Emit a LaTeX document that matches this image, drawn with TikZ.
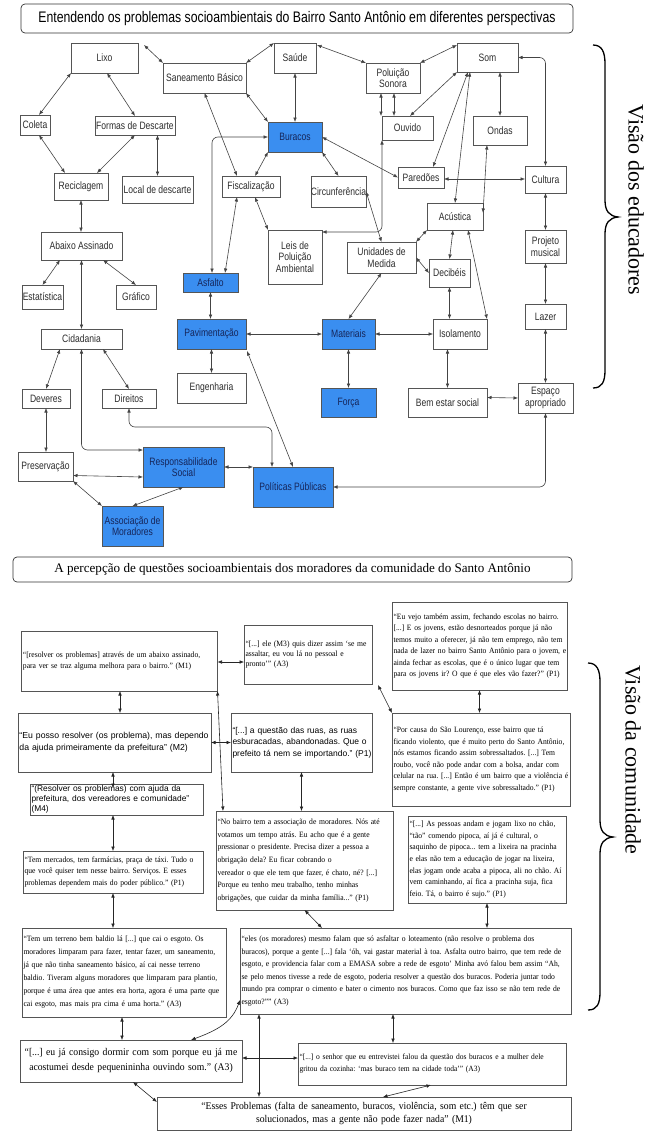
\documentclass[tikz,border=0pt]{standalone}
\usepackage{fontspec}
\setmainfont{Liberation Serif}
\newfontfamily\narrow[FakeStretch=0.8]{Liberation Sans}
\newfontfamily\arialf{Liberation Sans}
\newfontfamily\qserif[FakeStretch=0.94]{Liberation Serif}
\usetikzlibrary{arrows.meta,calc}
\definecolor{myblue}{HTML}{3A8EF0}
\definecolor{navytext}{HTML}{16265A}
\definecolor{boxgray}{HTML}{555555}
\definecolor{txtgray}{HTML}{2E2E2E}
\definecolor{linegray}{HTML}{444444}
\newcommand\JL[1]{\hbox to\hsize{#1}}
\newcommand\LL[1]{\hbox to\hsize{#1\hfil}}
\newcommand\CL[1]{\hbox to\hsize{\hfil#1\hfil}}
\frenchspacing
\tikzset{
  box/.style={draw=boxgray, fill=white, line width=0.6pt, text=txtgray,
    font=\narrow\fontsize{10.7}{11.5}\selectfont, inner sep=1pt, outer sep=0pt, align=center},
  bbox/.style={box, fill=myblue, text=navytext},
  arr/.style={draw=linegray, line width=0.6pt, {Latex[length=4.5pt,width=3.6pt]}-{Latex[length=4.5pt,width=3.6pt]}},
  qbox/.style={draw=boxgray, fill=white, line width=0.9pt, inner xsep=1.5pt, inner ysep=1pt, outer sep=0pt,
    font=\qserif\fontsize{8.1}{11.5}\selectfont},
  qarr/.style={draw=black!85, line width=0.6pt, {Latex[length=4.5pt,width=3.6pt]}-{Latex[length=4.5pt,width=3.6pt]}},
  titlebox/.style={draw=black!80, line width=0.7pt, rounded corners=4pt, fill=white, outer sep=0pt},
  bracepath/.style={draw=black, line width=1.3pt}
}
\begin{document}
\begin{tikzpicture}[x=1pt,y=-1pt]
\useasboundingbox (0,0) rectangle (660,1132);
\fill[white] (0,0) rectangle (660,1132);

% ===== Title 1 =====
\node[titlebox, minimum width=552pt, minimum height=29pt, font=\narrow\fontsize{15.3}{17}\selectfont] (t1) at (297,18.5)
  {Entendendo os problemas socioambientais do Bairro Santo Antônio em diferentes perspectivas};

% ===== Top nodes =====
\node[box, minimum width=67pt, minimum height=30pt] (lixo) at (104.5,58) {Lixo};
\node[box, minimum width=83pt, minimum height=30pt] (san) at (204.5,78) {Saneamento Básico};
\node[box, minimum width=42pt, minimum height=30pt] (saude) at (295,58) {Saúde};
\node[box, minimum width=30pt, minimum height=20pt] (coleta) at (35,125) {Coleta};
\node[box, minimum width=80pt, minimum height=19pt] (formas) at (135,125.5) {Formas de Descarte};
\node[bbox, minimum width=54pt, minimum height=30pt] (buracos) at (295,137) {Buracos};
\node[box, minimum width=54pt, minimum height=27pt] (recic) at (81,186.5) {Reciclagem};
\node[box, minimum width=71pt, minimum height=27pt] (local) at (157.5,189.5) {Local de descarte};
\node[box, minimum width=58pt, minimum height=21pt] (fisc) at (251,186.5) {Fiscalização};
\node[box, minimum width=55pt, minimum height=31pt, inner sep=0pt] (circ) at (338.5,191.5) {Circunferência};
\node[box, minimum width=81pt, minimum height=28pt] (abaixo) at (81.5,246) {Abaixo Assinado};
\node[box, minimum width=54pt, minimum height=54pt] (leis) at (295,257) {Leis de\\Poluição\\Ambiental};
\node[box, minimum width=54pt, minimum height=30pt] (ps) at (393,78) {Poluição\\Sonora};
\node[box, minimum width=61pt, minimum height=29pt] (som) at (487.5,57.5) {Som};
\node[box, minimum width=51pt, minimum height=24pt] (ouvido) at (407.5,128) {Ouvido};
\node[box, minimum width=54pt, minimum height=29pt] (ondas) at (500,130.5) {Ondas};
\node[box, minimum width=46pt, minimum height=21pt] (paredoes) at (421,177.5) {Paredões};
\node[box, minimum width=41pt, minimum height=27pt] (cultura) at (545.5,179.5) {Cultura};
\node[box, minimum width=56pt, minimum height=27pt] (acustica) at (455,216.5) {Acústica};
\node[box, minimum width=69pt, minimum height=31pt] (unidades) at (381.5,257.5) {Unidades de\\Medida};
\node[box, minimum width=41pt, minimum height=28pt] (decibeis) at (449.5,273) {Decibéis};
\node[box, minimum width=41pt, minimum height=33pt] (projeto) at (545.5,246.5) {Projeto\\musical};
\node[bbox, minimum width=55pt, minimum height=19pt] (asfalto) at (210.5,282.5) {Asfalto};
\node[box, minimum width=41pt, minimum height=24pt, inner sep=0pt] (estat) at (42.5,297) {Estatística};
\node[box, minimum width=40pt, minimum height=24pt] (grafico) at (136,297) {Gráfico};
\node[bbox, minimum width=69pt, minimum height=30pt] (pavim) at (211.5,334) {Pavimentação};
\node[box, minimum width=81pt, minimum height=20pt] (cidad) at (81.5,339) {Cidadania};
\node[bbox, minimum width=53pt, minimum height=30pt] (materiais) at (348.5,334) {Materiais};
\node[box, minimum width=54pt, minimum height=30pt] (isol) at (460,334) {Isolamento};
\node[box, minimum width=41pt, minimum height=25pt] (lazer) at (545.5,316.5) {Lazer};
\node[box, minimum width=69pt, minimum height=30pt] (engen) at (211.5,388) {Engenharia};
\node[box, minimum width=48pt, minimum height=19pt] (deveres) at (46,398.5) {Deveres};
\node[box, minimum width=54pt, minimum height=19pt] (direitos) at (129,398.5) {Direitos};
\node[bbox, minimum width=55pt, minimum height=29pt] (forca) at (348.5,402.5) {Força};
\node[box, minimum width=79pt, minimum height=29pt] (bem) at (447.5,402.5) {Bem estar social};
\node[box, minimum width=55pt, minimum height=30pt] (espaco) at (545.5,398) {Espaço\\apropriado};
\node[box, minimum width=55pt, minimum height=29pt] (preserv) at (45.5,466.5) {Preservação};
\node[bbox, minimum width=81pt, minimum height=40pt] (resp) at (183.5,467) {Responsabilidade\\Social};
\node[bbox, minimum width=80pt, minimum height=40pt] (polit) at (293,487) {Políticas Públicas};
\node[bbox, minimum width=61pt, minimum height=40pt] (assoc) at (132.5,526) {Associação de\\Moradores};

% ===== Top connectors =====
\draw[arr] ($(lixo.north east)+(6,2)$) -- (san.north west);
\draw[arr] (lixo.south west) -- ($(coleta.north)+(4,0)$);
\draw[arr] ($(lixo.south)+(2.5,0)$) -- (formas.north);
\draw[arr] ($(coleta.south)+(4,0)$) -- ($(recic.north west)+(11,0)$);
\draw[arr] (formas.south) -- ($(recic.north east)+(-11,0)$);
\draw[arr] (local.north |- formas.south) -- (local.north);
\draw[arr] (recic.south) -- (recic.south |- abaixo.north);
\draw[arr] (san.north east) -- (saude.north west);
\draw[arr] (san.south east) -- (buracos.north west);
\draw[arr] (san.south) -- ($(fisc.north)+(-14,0)$);
\draw[arr] (saude.south) -- (buracos.north);
\draw[arr] (buracos.south west) -- ($(fisc.north)+(4,0)$);
\draw[arr, rounded corners=6pt] (buracos.west) -| ($(asfalto.north)+(1.5,0)$);
\draw[arr] ($(fisc.south)+(-14,0)$) -- ($(asfalto.north)+(14.5,0)$);
\draw[arr] ($(fisc.south)+(4,0)$) -- (leis.north west);
\draw[arr, rounded corners=6pt] (ouvido.south west) |- ($(leis.north east)+(0,2)$);
\draw[arr] ($(ps.south)+(-12,0)$) -- ($(ouvido.north west)+(-1,0)$);
\draw[arr] ($(ps.south)+(1,0)$) -- ($(ouvido.north)+(-13.5,0)$);
\draw[arr] ($(ouvido.north)+(2.5,0)$) -- (som.south west);
\draw[arr] ($(saude.north east)+(1,2)$) -- (ps.north west);
\draw[arr] (ps.north east) -- ($(som.north west)+(0,2)$);
\draw[arr] ($(som.south)+(-19.5,0)$) -- ($(paredoes.north)+(12,0)$);
\draw[arr] ($(som.south)+(-17.5,0)$) -- (acustica.north);
\draw[arr] (ondas.north |- som.south) -- (ondas.north);
\draw[arr, rounded corners=6pt] (som.east) -| (cultura.north);
\draw[arr] ($(ondas.south)+(-13,0)$) -- ($(acustica.north east)+(0,10)$);
\draw[arr] (buracos.east) -- (paredoes.west);
\draw[arr] (buracos.south east) -- (circ.north);
\draw[arr] (circ.east) -- (unidades.north);
\draw[arr] ($(paredoes.east)+(0,1.5)$) -- ($(cultura.west)+(0,-0.5)$);
\draw[arr] (acustica.south west) -- (unidades.north east);
\draw[arr] ($(acustica.south)+(-2,0)$) -- (decibeis.north);
\draw[arr] (unidades.east) -- (decibeis.west);
\draw[arr] ($(acustica.south)+(13,0)$) -- (isol.north east);
\draw[arr] (decibeis.south) -- (decibeis.south |- isol.north);
\draw[arr] (unidades.south) -- (materiais.north);
\draw[arr] (pavim.east) -- (materiais.west);
\draw[arr] (materiais.east) -- (isol.west);
\draw[arr] (materiais.south) -- (forca.north);
\draw[arr] (bem.north |- isol.south) -- (bem.north);
\draw[arr] ($(bem.east)+(0,-5)$) -- (espaco.west);
\draw[arr] (cultura.south) -- (projeto.north);
\draw[arr] (projeto.south) -- (lazer.north);
\draw[arr] (lazer.south) -- (espaco.north);
\draw[arr, rounded corners=6pt] (espaco.south) |- (polit.east);
\draw[arr] (asfalto.south) -- (asfalto.south |- pavim.north);
\draw[arr] (pavim.south) -- (engen.north);
\draw[arr] ($(pavim.south east)+(1,2)$) -- (polit.north);
\draw[arr] ($(abaixo.south west)+(19,0)$) -- (estat.north);
\draw[arr] ($(abaixo.south)+(21.5,0)$) -- (grafico.north);
\draw[arr] (abaixo.south) -- (cidad.north);
\draw[arr] ($(cidad.south west)+(19,0)$) -- (deveres.north);
\draw[arr] ($(cidad.south)+(21.5,0)$) -- (direitos.north);
\draw[arr, rounded corners=6pt] (cidad.south) |- ($(resp.north west)+(0,3)$);
\draw[arr, rounded corners=6pt] (direitos.south) -- ++(0,19) -| ($(polit.north)+(-21,0)$);
\draw[arr] (deveres.south) -- (deveres.south |- preserv.north);
\draw[arr] ($(preserv.east)+(0,9)$) -- ($(resp.west)+(0,10)$);
\draw[arr] (preserv.south east) -- (assoc.north west);
\draw[arr] (assoc.north) -- (resp.south);
\draw[arr] (resp.east) -- (polit.north west);

% ===== Brace 1 and label =====
\draw[bracepath] (593,45) .. controls (602,45) and (605,52) .. (605,64) -- (605,200)
  .. controls (605,211) and (609,216) .. (618,217) .. controls (609,218) and (605,223) .. (605,234)
  -- (605,370) .. controls (605,382) and (602,388) .. (593,388);
\node[rotate=-90, font=\fontsize{22}{24}\selectfont, inner sep=0pt] (v1) at (636,200) {Visão dos educadores};

% ===== Title 2 =====
\node[titlebox, minimum width=559pt, minimum height=25pt, font=\fontsize{13.1}{15}\selectfont] (t2) at (292.5,569.5)
  {A percepção de questões socioambientais dos moradores da comunidade do Santo Antônio};

% ===== Quote boxes =====
\node[qbox, text width=193pt, minimum height=60pt, font=\qserif\fontsize{8.1}{11}\selectfont] (b1) at (119.5,661) {%
\JL{“[resolver os problemas] através de um abaixo assinado,}
\LL{para ver se traz alguma melhora para o bairro.” (M1)}};

\node[qbox, text width=125pt, minimum height=59pt, font=\qserif\fontsize{8.1}{10.2}\selectfont] (b2) at (308,654.5) {%
\JL{“[...] ele (M3) quis dizer assim ‘se me}
\JL{assaltar, eu vou lá no pessoal e}
\LL{pronto’” (A3)}};

\node[qbox, text width=172pt, minimum height=88pt] (b3) at (479.5,646) {%
\JL{“Eu vejo também assim, fechando escolas no bairro.}
\JL{[...] E os jovens, estão desnorteados porque já não}
\JL{temos muito a oferecer, já não tem emprego, não tem}
\JL{nada de lazer no bairro Santo Antônio para o jovem, e}
\JL{ainda fechar as escolas, que é o único lugar que tem}
\LL{para os jovens ir? O que é que eles vão fazer?” (P1)}};

\node[qbox, text width=190pt, minimum height=59pt, font=\arialf\fontsize{8.7}{12}\selectfont] (b4) at (114.5,742.5) {%
\JL{“Eu posso resolver (os problema), mas dependo}
\LL{da ajuda primeiramente da prefeitura” (M2)}};

\node[qbox, text width=138pt, minimum height=59pt, font=\arialf\fontsize{8.5}{11.7}\selectfont] (b5) at (301.5,742.5) {%
\JL{“[...] a questão das ruas, as ruas}
\JL{esburacadas, abandonadas. Que o}
\LL{prefeito tá nem se importando.” (P1)}};

\node[qbox, text width=175pt, minimum height=93pt] (b6) at (481,759.5) {%
\JL{“Por causa do São Lourenço, esse bairro que tá}
\JL{ficando violento, que é muito perto do Santo Antônio,}
\JL{nós estamos ficando assim sobressaltados. [...] Tem}
\JL{roubo, você não pode andar com a bolsa, andar com}
\JL{celular na rua. [...] Então é um bairro que a violência é}
\LL{sempre constante, a gente vive sobressaltado.” (P1)}};

\node[qbox, text width=170pt, minimum height=31pt, font=\arialf\fontsize{8.4}{10.3}\selectfont] (b7) at (116.5,799.5) {%
\JL{“(Resolver os problemas) com ajuda da}
\LL{prefeitura, dos vereadores e comunidade”}
\LL{(M4)}};

\node[qbox, text width=174pt, minimum height=99pt, font=\qserif\fontsize{8.1}{12.6}\selectfont] (b8) at (304.5,860.5) {%
\JL{“No bairro tem a associação de moradores. Nós até}
\JL{votamos um tempo atrás. Eu acho que é a gente}
\JL{pressionar o presidente. Precisa dizer a pessoa a}
\LL{obrigação dela? Eu ficar cobrando o}
\JL{vereador o que ele tem que fazer, é chato, né? [...]}
\JL{Porque eu tenho meu trabalho, tenho minhas}
\LL{obrigações, que cuidar da minha família...” (P1)}};

\node[qbox, text width=155pt, minimum height=87pt, font=\qserif\fontsize{8.1}{11.6}\selectfont] (b9) at (487,859.5) {%
\JL{“[...] As pessoas andam e jogam lixo no chão,}
\JL{“tão” comendo pipoca, aí já é cultural, o}
\JL{saquinho de pipoca... tem a lixeira na pracinha}
\JL{e elas não tem a educação de jogar na lixeira,}
\JL{elas jogam onde acaba a pipoca, ali no chão. Aí}
\JL{vem caminhando, aí fica a pracinha suja, fica}
\LL{feio. Tá, o bairro é sujo.” (P1)}};

\node[qbox, text width=177pt, minimum height=42pt, font=\qserif\fontsize{8.1}{12}\selectfont] (b10) at (113,872) {%
\JL{“Tem mercados, tem farmácias, praça de táxi. Tudo o}
\JL{que você quiser tem nesse bairro. Serviços. E esses}
\LL{problemas dependem mais do poder público.” (P1)}};

\node[qbox, text width=201pt, minimum height=89pt, font=\qserif\fontsize{8.1}{13}\selectfont] (b11) at (124,972.5) {%
\JL{“Tem um terreno bem baldio lá [...] que cai o esgoto. Os}
\JL{moradores limparam para fazer, tentar fazer, um saneamento,}
\JL{já que não tinha saneamento básico, aí cai nesse terreno}
\JL{baldio. Tiveram alguns moradores que limparam para plantio,}
\JL{porque é uma área que antes era horta, agora é uma parte que}
\LL{cai esgoto, mas mais pra cima é uma horta.” (A3)}};

\node[qbox, text width=328pt, minimum height=86pt, font=\qserif\fontsize{8.1}{12.6}\selectfont] (b12) at (405.5,971) {%
\JL{“eles (os moradores) mesmo falam que só asfaltar o loteamento (não resolve o problema dos}
\JL{buracos), porque a gente [...] fala ‘óh, vai gastar material à toa. Asfalta outro bairro, que tem rede de}
\JL{esgoto, e providencia falar com a EMASA sobre a rede de esgoto’ Minha avó falou bem assim “Ah,}
\JL{se pelo menos tivesse a rede de esgoto, poderia resolver a questão dos buracos. Poderia juntar todo}
\JL{mundo pra comprar o cimento e bater o cimento nos buracos. Como que faz isso se não tem rede de}
\LL{esgoto?”” (A3)}};

\node[qbox, text width=219pt, minimum height=42pt, font=\qserif\fontsize{10.3}{15}\selectfont] (b13) at (131,1061) {%
\CL{“[...] eu já consigo dormir com som porque eu já me}
\CL{acostumei desde pequenininha ouvindo som.” (A3)}};

\node[qbox, text width=265pt, minimum height=42pt, font=\qserif\fontsize{8}{12}\selectfont] (b14) at (432,1064) {%
\JL{“[...] o senhor que eu entrevistei falou da questão dos buracos e a mulher dele}
\LL{gritou da cozinha: ‘mas buraco tem na cidade toda’” (A3)}};

\node[qbox, text width=411pt, minimum height=33pt, font=\qserif\fontsize{10.3}{13.5}\selectfont] (b15) at (364,1113.5) {%
\CL{“Esses Problemas (falta de saneamento, buracos, violência, som etc.) têm que ser}
\CL{solucionados, mas a gente não pode fazer nada” (M1)}};

% ===== Bottom connectors =====
\draw[qarr] ($(b1.east)+(0,1)$) -- ($(b1.east -| b2.west)+(0,1)$);
\draw[qarr] ($(b1.south)+(0.5,0)$) -- ($(b1.south |- b4.north)+(0.5,0)$);
\draw[qarr] (b1.south east) -- ($(b8.north west)+(7,0)$);
\draw[qarr] (b4.east) -- (b4.east -| b5.west);
\draw[qarr] ($(b4.south)+(-1.5,0)$) -- ($(b7.north)+(-3.5,4)$);
\draw[qarr] ($(b7.south)+(-3.5,0)$) -- (b10.north);
\draw[qarr] (b5.south) -- (b5.south |- b8.north);
\draw[qarr] ($(b2.south east)+(6,1)$) -- (b6.north west);
\draw[qarr] (b3.south) -- (b3.south |- b6.north);
\draw[qarr] (b8.south) -- ($(b12.north west)+(82,0)$);
\draw[qarr] (b9.south) -- (b9.south |- b12.north);
\draw[qarr] (b10.south) -- (b10.south |- b11.north);
\draw[qarr] ($(b11.south)+(-2,0)$) -- ($(b11.south |- b13.north)+(-2,0)$);
\draw[qarr] ($(b13.north)+(60,0)$) .. controls (218,1030) and (232,1022) .. ($(b12.south west)+(0,-14)$);
\draw[qarr] ($(b13.east)+(0,-3)$) -- ($(b13.east -| b14.west)+(0,-3)$);
\draw[qarr] ($(b12.south west)+(19,0)$) -- ($(b15.north west)+(102,0)$);
\draw[qarr] ($(b12.south)+(-12.5,0)$) -- ($(b12.south |- b14.north)+(-12.5,0)$);
\draw[qarr] ($(b13.south)+(2,0)$) -- ($(b15.north west)+(0,5)$);
\draw[qarr] ($(b14.south)+(-1,0)$) -- ($(b15.north)+(19,0)$);

% ===== Brace 2 and label =====
\draw[bracepath] (588,663) .. controls (597,663) and (600,670) .. (600,682) -- (600,820)
  .. controls (600,831) and (604,836) .. (613,837) .. controls (604,838) and (600,843) .. (600,854)
  -- (600,992) .. controls (600,1004) and (597,1010) .. (588,1010);
\node[rotate=-90, font=\fontsize{22}{24}\selectfont, inner sep=0pt] (v2) at (633,760) {Visão da comunidade};
\end{tikzpicture}
\end{document}
